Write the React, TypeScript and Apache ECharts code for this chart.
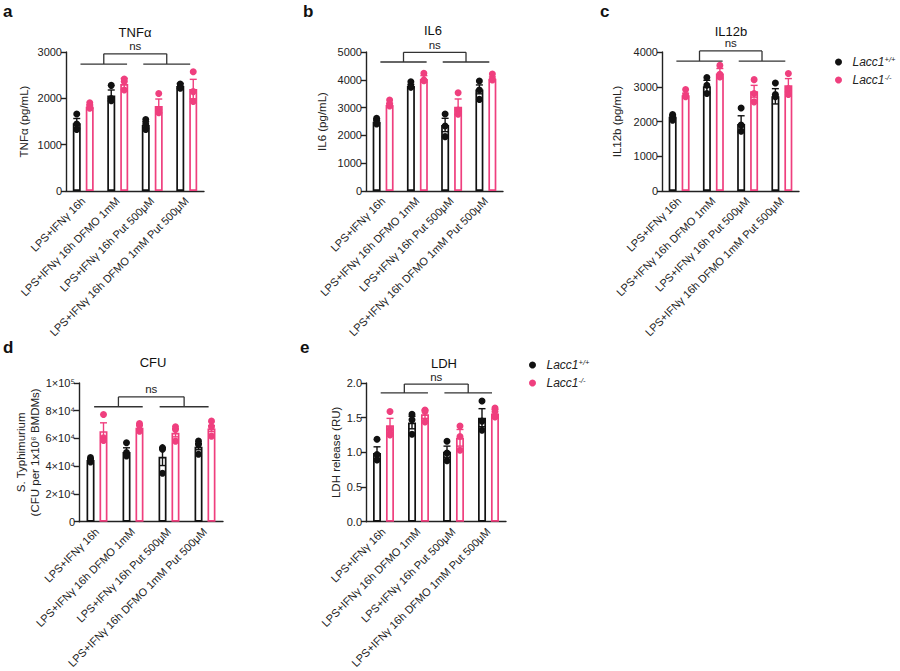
import React, { useEffect, useRef } from "react";
import * as echarts from "echarts";

const categories = [
  "LPS+IFNγ 16h",
  "LPS+IFNγ 16h DFMO 1mM",
  "LPS+IFNγ 16h Put 500μM",
  "LPS+IFNγ 16h DFMO 1mM Put 500μM",
];

const WT = "Lacc1+/+";
const KO = "Lacc1-/-";

// TNFα (pg/mL)
const tnfWtMean = [1460, 2060, 1425, 2265];
const tnfWtSem = [105, 120, 70, 55];
const tnfWtPts = [[1660, 1446, 1330], [2280, 1995, 1950], [1545, 1446, 1330], [2310, 2252, 2216]];
const tnfKoMean = [1820, 2310, 1835, 2200];
const tnfKoSem = [40, 120, 150, 210];
const tnfKoPts = [[1905, 1835, 1785], [2415, 2365, 2180], [2105, 1760, 1690], [2575, 2145, 1930]];

// IL6 (pg/mL)
const il6WtMean = [2495, 3775, 2375, 3655];
const il6WtSem = [60, 60, 240, 160];
const il6WtPts = [[2615, 2530, 2410], [3930, 3755, 3730], [2770, 2340, 1955], [3955, 3635, 3295]];
const il6KoMean = [3095, 4030, 3035, 4040];
const il6KoSem = [60, 120, 275, 65];
const il6KoPts = [[3275, 3130, 3060], [4235, 3995, 3970], [3535, 2915, 2760], [4210, 4015, 3995]];

// IL12b (pg/mL)
const il12WtMean = [2135, 3015, 1925, 2725];
const il12WtSem = [50, 170, 240, 220];
const il12WtPts = [[2200, 2135, 2040], [3265, 3045, 2805], [2390, 1895, 1720], [3110, 2775, 2710]];
const il12KoMean = [2755, 3380, 2870, 3045];
const il12KoSem = [60, 145, 170, 190];
const il12KoPts = [[2920, 2755, 2710], [3615, 3360, 3280], [3205, 2805, 2565], [3380, 2945, 2775]];

// CFU
const cfuWtMean = [44500, 50200, 46900, 54100];
const cfuWtSem = [900, 3100, 6400, 2200];
const cfuWtPts = [[46200, 44500, 43100], [56900, 49800, 47400], [53400, 52200, 34900], [58100, 55700, 48600]];
const cfuKoMean = [65300, 67700, 64100, 67200];
const cfuKoSem = [6000, 1800, 2900, 2200];
const cfuKoPts = [[77300, 60500, 58600], [70800, 69400, 65300], [68400, 66500, 58100], [72500, 68400, 61700]];

// LDH release (RU)
const ldhWtMean = [0.99, 1.43, 1.01, 1.5];
const ldhWtSem = [0.09, 0.09, 0.08, 0.13];
const ldhWtPts = [[1.19, 0.97, 0.89], [1.55, 1.47, 1.26], [1.16, 0.99, 0.88], [1.74, 1.45, 1.32]];
const ldhKoMean = [1.39, 1.55, 1.21, 1.56];
const ldhKoSem = [0.1, 0.06, 0.12, 0.06];
const ldhKoPts = [[1.59, 1.33, 1.25], [1.61, 1.59, 1.44], [1.38, 1.23, 1.03], [1.64, 1.59, 1.51]];

// bracket levels [top, arms]
const tnfBracket = [2960, 2740];
const il6Bracket = [4990, 4640];
const il12Bracket = [4030, 3740];
const cfuBracket = [90000, 82900];
const ldhBracket = [1.985, 1.857];

const FONT = 'Arial, "Liberation Sans", Helvetica, sans-serif';
const PINK = "#ef3f7e";
const BLACK = "#111111";
const AXIS = "#222222";
const OFF = 6.5;

const panels = [
  {
    letter: "a", title: "TNFα", yName: "TNFα (pg/mL)", max: 3000, interval: 1000,
    grid: { left: 66, top: 52, width: 138, height: 139 }, nameGap: 35,
    wtMean: tnfWtMean, wtSem: tnfWtSem, wtPts: tnfWtPts, koMean: tnfKoMean, koSem: tnfKoSem, koPts: tnfKoPts,
    bracket: tnfBracket, fmt: (v: number) => String(v),
  },
  {
    letter: "b", title: "IL6", yName: "IL6 (pg/mL)", max: 5000, interval: 1000,
    grid: { left: 366, top: 52, width: 137, height: 139 }, nameGap: 37,
    wtMean: il6WtMean, wtSem: il6WtSem, wtPts: il6WtPts, koMean: il6KoMean, koSem: il6KoSem, koPts: il6KoPts,
    bracket: il6Bracket, fmt: (v: number) => String(v),
  },
  {
    letter: "c", title: "IL12b", yName: "IL12b (pg/mL)", max: 4000, interval: 1000,
    grid: { left: 662, top: 52, width: 137, height: 139 }, nameGap: 38,
    wtMean: il12WtMean, wtSem: il12WtSem, wtPts: il12WtPts, koMean: il12KoMean, koSem: il12KoSem, koPts: il12KoPts,
    bracket: il12Bracket, fmt: (v: number) => String(v),
  },
  {
    letter: "d", title: "CFU", yName: "S. Typhimurium\n(CFU per 1x10⁶ BMDMs)", max: 100000, interval: 20000,
    grid: { left: 79, top: 383, width: 144, height: 140 }, nameGap: 35,
    wtMean: cfuWtMean, wtSem: cfuWtSem, wtPts: cfuWtPts, koMean: cfuKoMean, koSem: cfuKoSem, koPts: cfuKoPts,
    bracket: cfuBracket,
    fmt: (v: number) => {
      if (v === 0) return "0";
      if (v === 100000) return "1×10⁵";
      return `${v / 10000}×10⁴`;
    },
  },
  {
    letter: "e", title: "LDH", yName: "LDH release (RU)", max: 2, interval: 0.5,
    grid: { left: 366, top: 383, width: 140, height: 140 }, nameGap: 22,
    wtMean: ldhWtMean, wtSem: ldhWtSem, wtPts: ldhWtPts, koMean: ldhKoMean, koSem: ldhKoSem, koPts: ldhKoPts,
    bracket: ldhBracket, fmt: (v: number) => v.toFixed(1),
  },
];

const letterPos = [[3, 11], [303, 11], [600, 11], [3, 347], [300, 347]];
const titlePos = [[135, 32], [433, 30.5], [731, 31], [153, 362], [444, 363.5]];

function errorSeries(i: number, mean: number[], sem: number[], color: string, off: number) {
  return {
    type: "custom",
    xAxisIndex: i,
    yAxisIndex: i,
    z: 3,
    silent: true,
    data: mean.map((m, j) => [j, m, sem[j]]),
    renderItem: (_p: any, api: any) => {
      const c = api.value(0);
      const m = api.value(1);
      const s = api.value(2);
      const top = api.coord([c, m + s]);
      const bot = api.coord([c, m - s]);
      const x = top[0] + off;
      const st = { stroke: color, lineWidth: 1.4 };
      return {
        type: "group",
        children: [
          { type: "line", shape: { x1: x, y1: top[1], x2: x, y2: bot[1] }, style: st },
          { type: "line", shape: { x1: x - 3.5, y1: top[1], x2: x + 3.5, y2: top[1] }, style: st },
          { type: "line", shape: { x1: x - 3.5, y1: bot[1], x2: x + 3.5, y2: bot[1] }, style: st },
        ],
      };
    },
  };
}

function bracketSeries(i: number, levels: number[]) {
  return {
    type: "custom",
    xAxisIndex: i,
    yAxisIndex: i,
    z: 5,
    silent: true,
    clip: false,
    data: [[0, levels[0], levels[1]]],
    renderItem: (_p: any, api: any) => {
      const top = api.value(1);
      const arm = api.value(2);
      const band = api.size([1, 0])[0];
      const p0 = api.coord([0, arm]);
      const p1 = api.coord([1, arm]);
      const p2 = api.coord([2, arm]);
      const p3 = api.coord([3, arm]);
      const yT = api.coord([0, top])[1];
      const yA = p0[1];
      const l1 = p0[0] - 0.08 * band;
      const l2 = p1[0] + 0.27 * band;
      const r1 = p2[0] - 0.26 * band;
      const r2 = p3[0] + 0.1 * band;
      const mL = (l1 + l2) / 2;
      const mR = (r1 + r2) / 2;
      const st = { stroke: "#333", lineWidth: 1.3 };
      return {
        type: "group",
        children: [
          { type: "line", shape: { x1: l1, y1: yA, x2: l2, y2: yA }, style: st },
          { type: "line", shape: { x1: r1, y1: yA, x2: r2, y2: yA }, style: st },
          { type: "line", shape: { x1: mL, y1: yA, x2: mL, y2: yT }, style: st },
          { type: "line", shape: { x1: mR, y1: yA, x2: mR, y2: yT }, style: st },
          { type: "line", shape: { x1: mL, y1: yT, x2: mR, y2: yT }, style: st },
          {
            type: "text",
            style: {
              text: "ns", x: (mL + mR) / 2, y: yT - 7.5, fill: "#222",
              fontSize: 11.5, fontFamily: FONT, align: "center", verticalAlign: "middle",
            },
          },
        ],
      };
    },
  };
}

function pts(arr: number[][]) {
  const out: number[][] = [];
  arr.forEach((g, j) => g.forEach((v) => out.push([j, v])));
  return out;
}

const legendRich = {
  a: { fontStyle: "italic", fontSize: 12, fontFamily: FONT, color: "#222", lineHeight: 14 },
  b: { fontStyle: "italic", fontSize: 7.5, fontFamily: FONT, color: "#222", verticalAlign: "top", lineHeight: 9 },
};

function legendAt(left: number, top: number) {
  return {
    left, top, orient: "vertical", itemWidth: 18, itemHeight: 7, itemGap: 5,
    selectedMode: false,
    data: [{ name: WT, icon: "circle" }, { name: KO, icon: "circle" }],
    formatter: (n: string) => `{a|Lacc1}{b|${n.slice(5)}}`,
    textStyle: { rich: legendRich },
  };
}

export default function App() {
  const ref = useRef<HTMLDivElement>(null);
  useEffect(() => {
    if (!ref.current) return;
    const chart = echarts.init(ref.current, null, { renderer: "svg" });
    const grids: any[] = [];
    const xAxes: any[] = [];
    const yAxes: any[] = [];
    const series: any[] = [];
    const graphics: any[] = [];
    panels.forEach((p, i) => {
      grids.push({ ...p.grid, containLabel: false });
      xAxes.push({
        type: "category", gridIndex: i, data: categories,
        axisLine: { lineStyle: { color: AXIS, width: 1.4 } },
        axisTick: { alignWithLabel: true, length: 5, lineStyle: { color: AXIS, width: 1.4 } },
        axisLabel: { interval: 0, rotate: 45, fontSize: 11, color: "#222", fontFamily: FONT, margin: 8 },
        splitLine: { show: false },
      });
      yAxes.push({
        type: "value", gridIndex: i, min: 0, max: p.max, interval: p.interval,
        name: p.yName, nameLocation: "middle", nameRotate: 90, nameGap: p.nameGap,
        nameTextStyle: { fontSize: 11.5, color: "#222", fontFamily: FONT, lineHeight: 14 },
        axisLine: { show: true, lineStyle: { color: AXIS, width: 1.4 } },
        axisTick: { show: true, length: 5, lineStyle: { color: AXIS, width: 1.4 } },
        axisLabel: { fontSize: 11, color: "#222", fontFamily: FONT, margin: 4, formatter: p.fmt },
        splitLine: { show: false },
      });
      series.push({
        type: "bar", name: "wt-bar-" + p.letter, xAxisIndex: i, yAxisIndex: i,
        data: p.wtMean, barWidth: 8, barGap: "62%", z: 2,
        itemStyle: { color: "rgba(255,255,255,0)", borderColor: BLACK, borderWidth: 1.7 },
      });
      series.push({
        type: "bar", name: "ko-bar-" + p.letter, xAxisIndex: i, yAxisIndex: i,
        data: p.koMean, barWidth: 8, barGap: "62%", z: 2,
        itemStyle: { color: "rgba(255,255,255,0)", borderColor: PINK, borderWidth: 1.7 },
      });
      series.push(errorSeries(i, p.wtMean, p.wtSem, BLACK, -OFF));
      series.push(errorSeries(i, p.koMean, p.koSem, PINK, OFF));
      series.push({
        type: "scatter", name: WT, xAxisIndex: i, yAxisIndex: i, z: 4,
        data: pts(p.wtPts), symbolSize: 7, symbolOffset: [-OFF, 0],
        itemStyle: { color: BLACK, opacity: 1 },
      });
      series.push({
        type: "scatter", name: KO, xAxisIndex: i, yAxisIndex: i, z: 4,
        data: pts(p.koPts), symbolSize: 7, symbolOffset: [OFF, 0],
        itemStyle: { color: PINK, opacity: 1 },
      });
      series.push(bracketSeries(i, p.bracket));
      graphics.push({
        type: "text", x: letterPos[i][0], y: letterPos[i][1],
        style: { text: p.letter, fontSize: 17, fontWeight: "bold", fontFamily: FONT, fill: "#111", verticalAlign: "middle" },
      });
      graphics.push({
        type: "text", x: titlePos[i][0], y: titlePos[i][1],
        style: { text: p.title, fontSize: 13, fontFamily: FONT, fill: "#111", align: "center", verticalAlign: "middle" },
      });
    });
    chart.setOption({
      animation: false,
      backgroundColor: "#ffffff",
      textStyle: { fontFamily: FONT },
      grid: grids,
      xAxis: xAxes,
      yAxis: yAxes,
      series,
      legend: [legendAt(830, 50), legendAt(524, 353)],
      graphic: graphics,
    });
    return () => chart.dispose();
  }, []);
  return <div ref={ref} style={{ width: 900, height: 671, position: "absolute", left: 0, top: 0 }} />;
}
